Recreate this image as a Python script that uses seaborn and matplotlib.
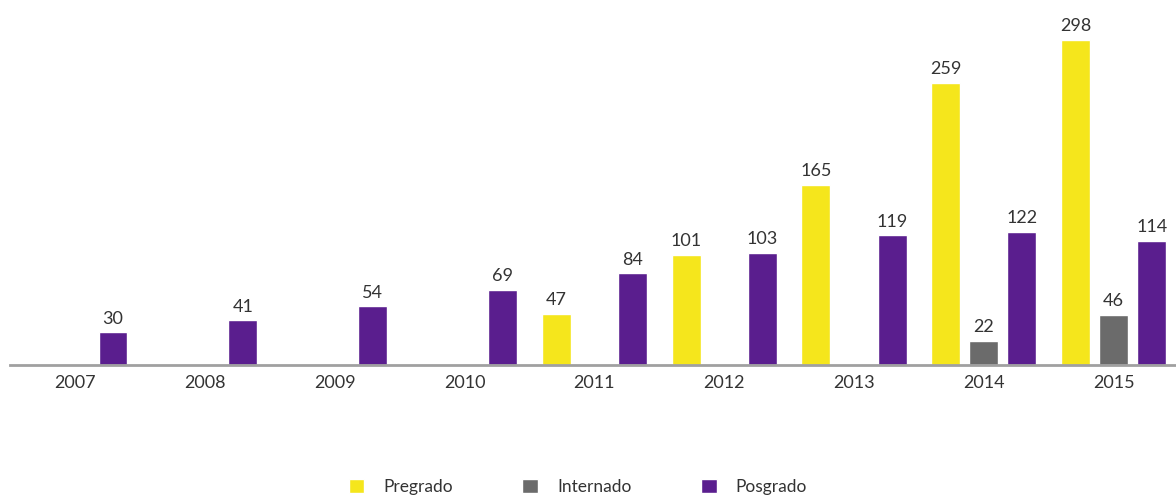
import pandas as pd
import matplotlib.pyplot as plt
import seaborn as sns

years = ['2007', '2008', '2009', '2010', '2011', '2012', '2013', '2014', '2015']
pregrado = [None, None, None, None, 47, 101, 165, 259, 298]
internado = [None, None, None, None, None, None, None, 22, 46]
posgrado = [30, 41, 54, 69, 84, 103, 119, 122, 114]

series = ['Pregrado', 'Internado', 'Posgrado']
colors = ['#F5E61C', '#6B6B6B', '#5A1E8E']

rows = []
for name, vals in zip(series, [pregrado, internado, posgrado]):
    for y, v in zip(years, vals):
        if v is not None:
            rows.append({'Año': y, 'Tipo': name, 'Valor': v})
df = pd.DataFrame(rows)

sns.set_style('white')
plt.rcParams['font.family'] = ['Lato', 'DejaVu Sans']

fig = plt.figure(figsize=(11.76, 4.98), dpi=100)
ax = fig.add_axes([10 / 1176, 133 / 498, 1 - 10 / 1176, 1 - 133 / 498 - 16 / 498])

sns.barplot(data=df, x='Año', y='Valor', hue='Tipo', order=years, hue_order=series,
            palette=colors, width=0.88, gap=0.24, saturation=1, ax=ax, legend=True)

for c in ax.containers:
    ax.bar_label(c, fmt='%d', padding=4, fontsize=13, color='#333333')

ax.set_xlim(-0.5, 8.48)
ax.set_ylim(0, 320)
ax.set_xlabel('')
ax.set_ylabel('')
ax.set_yticks([])
ax.tick_params(axis='x', length=0, pad=7, labelsize=13, labelcolor='#333333')
for s in ['top', 'right', 'left']:
    ax.spines[s].set_visible(False)
ax.spines['bottom'].set_color('#A0A0A0')
ax.spines['bottom'].set_linewidth(2)

ax.legend(loc='center', bbox_to_anchor=(0.487, -0.35), ncol=3, frameon=False,
          fontsize=12.5, handlelength=0.9, handleheight=0.9, columnspacing=4.0,
          handletextpad=1.1, labelcolor='#333333')

fig.savefig('out.png', dpi=100)
